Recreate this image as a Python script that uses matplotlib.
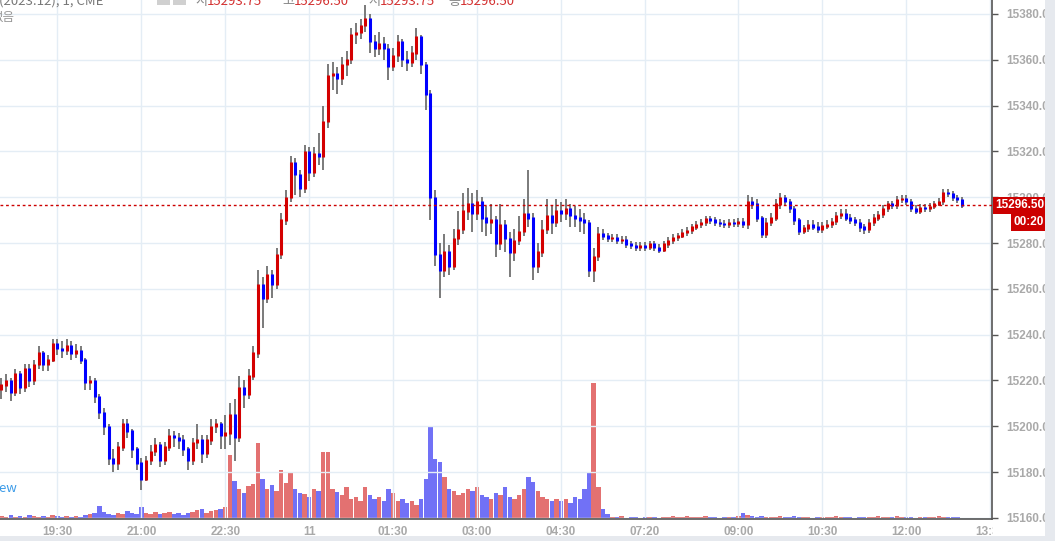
import matplotlib
matplotlib.use('Agg')
import matplotlib.pyplot as plt
import matplotlib.transforms as mtransforms
from matplotlib.patches import Rectangle

plt.rcParams['font.family'] = ['Noto Sans CJK KR', 'DejaVu Sans']

# 5-minute candles, NQ (2023.12), CME
opens = [15216, 15218, 15220, 15215, 15223, 15217, 15225, 15220, 15227, 15232,
         15227, 15229, 15236, 15234, 15233, 15235, 15232, 15233, 15229, 15219,
         15220, 15213, 15206, 15200, 15186, 15184, 15191, 15201, 15198, 15190,
         15184, 15177, 15185, 15189, 15192, 15185, 15191, 15196, 15195, 15194,
         15190, 15185, 15193, 15194, 15188, 15194, 15200, 15201, 15196, 15197,
         15205, 15195, 15217, 15214, 15222, 15232, 15262, 15256, 15266, 15262,
         15275, 15290, 15300, 15315, 15310, 15304, 15320, 15311, 15319, 15318,
         15333, 15353, 15354, 15352, 15358, 15360, 15371, 15372, 15375, 15378,
         15368, 15365, 15367, 15365, 15357, 15362, 15368, 15360, 15359, 15363,
         15370, 15358, 15345, 15300, 15275, 15268, 15276, 15270, 15282, 15286,
         15294, 15297, 15293, 15298, 15291, 15289, 15290, 15280, 15288, 15282,
         15276, 15281, 15285, 15293, 15291, 15270, 15276, 15286, 15292, 15289,
         15294, 15293, 15295, 15292, 15291, 15290, 15289, 15268, 15274, 15284,
         15283, 15282, 15282.5, 15281, 15281.5, 15279.5, 15279, 15278, 15279, 15278,
         15279.5, 15278, 15277, 15279.5, 15281, 15282.5, 15283, 15284.5, 15285.5, 15287,
         15288, 15289, 15290.5, 15290, 15289, 15288.5, 15288, 15289, 15288.5, 15289.5,
         15288, 15298, 15297, 15291, 15284, 15289, 15291, 15297, 15300, 15298,
         15295, 15290, 15285, 15286.5, 15288, 15287, 15286, 15287.5, 15288, 15289.5,
         15292, 15293, 15291, 15290, 15289, 15287, 15286, 15289, 15291, 15292.5,
         15295, 15297, 15296.5, 15299, 15299.5, 15298, 15295, 15294, 15295.5, 15295,
         15296, 15297, 15298, 15302, 15301.5, 15300, 15299]

highs = [15221, 15223, 15221, 15225, 15224, 15227, 15227, 15229, 15235, 15233,
         15231, 15238, 15238, 15237, 15238, 15237, 15236, 15235, 15230, 15222,
         15221, 15214, 15208, 15201, 15190, 15193, 15203, 15203, 15199, 15191,
         15186, 15187, 15192, 15195, 15193, 15193, 15199, 15198, 15197, 15196,
         15191, 15195, 15201, 15196, 15196, 15203, 15203, 15202, 15205, 15210,
         15212, 15222, 15220, 15225, 15235, 15268, 15265, 15270, 15268, 15278,
         15293, 15303, 15318, 15317, 15312, 15323, 15322, 15322, 15328, 15340,
         15358, 15359, 15357, 15361, 15364, 15374, 15376, 15378, 15384, 15380,
         15371, 15372, 15370, 15367, 15365, 15371, 15369, 15364, 15366, 15374,
         15371, 15359, 15347, 15303, 15280, 15284, 15279, 15286, 15294, 15302,
         15304, 15302, 15303, 15300, 15296, 15297, 15292, 15297, 15290, 15285,
         15286, 15292, 15299, 15312, 15293, 15280, 15290, 15299, 15296, 15299,
         15298, 15299, 15297, 15296, 15295, 15293, 15290, 15278, 15287, 15286,
         15284.5, 15284, 15284, 15283, 15283, 15281, 15280.5, 15280.5, 15280.5, 15281,
         15281, 15279.5, 15281, 15282.5, 15284, 15284.5, 15286, 15287, 15288.5, 15289.5,
         15290.5, 15292, 15292, 15291.5, 15290.5, 15290, 15290.5, 15290.5, 15291, 15291,
         15301, 15300, 15299, 15292, 15291, 15293, 15299, 15302, 15301, 15299,
         15296, 15291, 15288, 15290, 15290, 15289, 15289, 15290, 15291, 15293.5,
         15295, 15295, 15292.5, 15291.5, 15290.5, 15288.5, 15290.5, 15292.5, 15294, 15296.5,
         15298.5, 15298.5, 15300.5, 15301, 15301, 15299, 15296.5, 15297, 15297, 15297.5,
         15298.5, 15299.5, 15303.5, 15303.5, 15302.5, 15301, 15300]

lows = [15212, 15215, 15211, 15213, 15214, 15215, 15217, 15218, 15225, 15224,
        15224, 15228, 15231, 15230, 15231, 15229, 15230, 15227, 15216, 15216,
        15210, 15203, 15196, 15183, 15180, 15181, 15189, 15195, 15186, 15181,
        15172, 15176, 15183, 15187, 15182, 15183, 15189, 15191, 15190, 15187,
        15181, 15183, 15190, 15184, 15186, 15192, 15197, 15190, 15190, 15192,
        15185, 15193, 15208, 15212, 15220, 15230, 15243, 15254, 15256, 15260,
        15273, 15288, 15298, 15301, 15300, 15302, 15307, 15309, 15314, 15312,
        15330, 15347, 15345, 15349, 15353, 15358, 15367, 15369, 15372, 15363,
        15361, 15362, 15360, 15351, 15355, 15359, 15357, 15355, 15357, 15360,
        15354, 15338, 15290, 15270, 15256, 15265, 15266, 15268, 15279, 15284,
        15290, 15285, 15290, 15285, 15283, 15284, 15274, 15277, 15276, 15265,
        15272, 15279, 15283, 15287, 15264, 15267, 15274, 15284, 15284, 15287,
        15289, 15290, 15287, 15287, 15285, 15284, 15265, 15263, 15272, 15281.5,
        15280.5, 15280.5, 15279.5, 15279.5, 15278, 15277.5, 15276.5, 15276.5, 15276.5, 15277,
        15276.5, 15275.5, 15276, 15278, 15279.5, 15281, 15282, 15283, 15284, 15285.5,
        15286.5, 15287.5, 15288.5, 15287.5, 15287, 15286.5, 15286.5, 15287, 15287, 15286.5,
        15286, 15295, 15289, 15282, 15282, 15287.5, 15289.5, 15295, 15296, 15293,
        15288, 15283.5, 15284, 15285, 15285.5, 15284.5, 15284.5, 15286, 15286.5, 15288,
        15290.5, 15289.5, 15288.5, 15287.5, 15285, 15284, 15284.5, 15287.5, 15289.5, 15291,
        15293.5, 15295, 15295, 15297.5, 15296.5, 15293.5, 15292.5, 15292.5, 15293.5, 15293.5,
        15295, 15296, 15296.5, 15300, 15298.5, 15297.5, 15295.5]

closes = [15218, 15220, 15215, 15223, 15217, 15225, 15220, 15227, 15232, 15227,
          15229, 15236, 15234, 15233, 15235, 15232, 15233, 15229, 15219, 15220,
          15213, 15206, 15200, 15186, 15184, 15191, 15201, 15198, 15190, 15184,
          15177, 15185, 15189, 15192, 15185, 15191, 15196, 15195, 15194, 15190,
          15185, 15193, 15194, 15188, 15194, 15200, 15201, 15196, 15197, 15205,
          15195, 15217, 15214, 15222, 15232, 15262, 15256, 15266, 15262, 15275,
          15290, 15300, 15315, 15310, 15304, 15320, 15311, 15319, 15318, 15333,
          15353, 15354, 15352, 15358, 15360, 15371, 15372, 15375, 15378, 15368,
          15365, 15367, 15365, 15357, 15362, 15368, 15360, 15359, 15363, 15370,
          15358, 15345, 15300, 15275, 15268, 15276, 15270, 15282, 15286, 15294,
          15297, 15293, 15298, 15291, 15289, 15290, 15280, 15288, 15282, 15276,
          15281, 15285, 15293, 15291, 15270, 15276, 15286, 15292, 15289, 15294,
          15293, 15295, 15292, 15291, 15290, 15289, 15268, 15274, 15284, 15283,
          15282, 15282.5, 15281, 15281.5, 15279.5, 15279, 15278, 15279, 15278, 15279.5,
          15278, 15277, 15279.5, 15281, 15282.5, 15283, 15284.5, 15285.5, 15287, 15288,
          15289, 15290.5, 15290, 15289, 15288.5, 15288, 15289, 15288.5, 15289.5, 15288,
          15298, 15297, 15291, 15284, 15289, 15291, 15297, 15300, 15298, 15295,
          15290, 15285, 15286.5, 15288, 15287, 15286, 15287.5, 15288, 15289.5, 15292,
          15293, 15291, 15290, 15289, 15287, 15286, 15289, 15291, 15292.5, 15295,
          15297, 15296.5, 15299, 15299.5, 15298, 15295, 15294, 15295.5, 15295, 15296,
          15297, 15298, 15302, 15301.5, 15300, 15299, 15296.5]

volumes = [75, 50, 100, 50, 75, 50, 100, 75, 50, 75,
           50, 100, 75, 50, 75, 50, 75, 50, 100, 125,
           150, 325, 175, 125, 100, 150, 125, 200, 150, 125,
           300, 150, 125, 175, 125, 150, 175, 125, 150, 100,
           150, 175, 225, 250, 150, 200, 225, 250, 300, 1600,
           950, 750, 650, 825, 875, 1900, 1000, 750, 850, 700,
           1225, 900, 1175, 750, 650, 625, 550, 750, 700, 1675,
           1675, 750, 675, 600, 800, 500, 550, 450, 800, 600,
           500, 550, 450, 750, 650, 450, 500, 400, 450, 350,
           500, 1000, 2300, 1500, 1425, 1050, 750, 700, 600, 650,
           750, 700, 800, 600, 550, 500, 650, 600, 800, 550,
           500, 600, 750, 1050, 925, 700, 550, 500, 450, 500,
           450, 500, 400, 550, 500, 750, 1175, 3400, 800, 250,
           125, 50, 50, 75, 25, 50, 50, 25, 50, 50,
           50, 25, 50, 50, 75, 50, 50, 75, 50, 50,
           50, 75, 50, 50, 25, 50, 50, 50, 75, 150,
           100, 75, 50, 75, 50, 50, 50, 75, 50, 50,
           75, 50, 50, 50, 25, 50, 50, 50, 50, 75,
           50, 50, 50, 25, 50, 50, 50, 50, 75, 50,
           50, 50, 75, 50, 50, 50, 25, 50, 50, 50,
           50, 75, 50, 50, 50, 50, 25]

time_ticks = [12, 30, 48, 66, 84, 102, 120, 138, 158, 176, 194, 212]
time_labels = ['19:30', '21:00', '22:30', '11', '01:30', '03:00', '04:30',
               '07:20', '09:00', '10:30', '12:00', '13:30']
price_ticks = list(range(15160, 15381, 20))
last_price = 15296.50

W, H = 1055, 541
fig = plt.figure(figsize=(W / 100, H / 100), dpi=100)
fig.patch.set_facecolor('white')
rect = [0, 22 / H, 992 / W, 519 / H]

# volume pane underneath
axv = fig.add_axes(rect, zorder=0)
axv.set_xlim(-0.3, 212.4)
axv.set_ylim(0, 12975)
axv.axis('off')

ax = fig.add_axes(rect, zorder=1)
ax.patch.set_visible(False)
ax.set_xlim(-0.3, 212.4)
ax.set_ylim(15159.5, 15386.1)

idx = list(range(len(closes)))
up = [c >= o for o, c in zip(opens, closes)]
up_col, dn_col = '#d40000', '#0000ff'

axv.bar(idx, volumes, width=0.95,
        color=['#e06262' if u else '#6262f5' for u in up], alpha=0.9, linewidth=0)

ax.vlines(idx, lows, highs, color='#707070', linewidth=1.3, zorder=2)
body_lo = [min(o, c) - 0.3 for o, c in zip(opens, closes)]
body_hi = [max(o, c) + 0.3 for o, c in zip(opens, closes)]
ax.vlines(idx, body_lo, body_hi, color=[up_col if u else dn_col for u in up],
          linewidth=2.2, zorder=3)

ax.axhline(last_price, color='#cc0000', linestyle=(0, (2, 2)), linewidth=1, zorder=4)

# grid + axes styling
ax.set_xticks(time_ticks)
ax.set_xticklabels(time_labels)
ax.set_yticks(price_ticks)
ax.set_yticklabels(['%.2f' % p for p in price_ticks])
ax.yaxis.tick_right()
ax.grid(True, color='#e4edf5', linewidth=1)
ax.set_axisbelow(True)
for s in ['top', 'left']:
    ax.spines[s].set_visible(False)
for s in ['right', 'bottom']:
    ax.spines[s].set_color('#555555')
    ax.spines[s].set_linewidth(1.2)
ax.tick_params(axis='y', length=4, width=1, color='#555555', pad=6,
               labelsize=8.5, labelcolor='#a9a9a9')
ax.tick_params(axis='x', length=0, pad=5, labelsize=8.5, labelcolor='#a9a9a9')
for t in ax.get_yticklabels() + ax.get_xticklabels():
    t.set_fontweight('bold')
    t.set_family(['Liberation Sans', 'DejaVu Sans'])

# last price tags
blend = mtransforms.blended_transform_factory(ax.transAxes, ax.transData)
ax.annotate('%.2f' % last_price, xy=(1, last_price), xycoords=blend,
            textcoords='offset pixels', xytext=(52, 0), ha='right', va='center',
            color='white', fontsize=8.5, fontweight='bold', family=['Liberation Sans'],
            bbox=dict(boxstyle='square,pad=0.2', fc='#cc0000', ec='none'),
            annotation_clip=False, zorder=10)
ax.annotate('00:20', xy=(1, last_price), xycoords=blend,
            textcoords='offset pixels', xytext=(52, -17), ha='right', va='center',
            color='white', fontsize=8.5, fontweight='bold', family=['Liberation Sans'],
            bbox=dict(boxstyle='square,pad=0.2', fc='#cc0000', ec='none'),
            annotation_clip=False, zorder=10)

# frame decorations
fig.add_artist(Rectangle((993 / W, 0), 52 / W, 19 / H, transform=fig.transFigure,
                         facecolor='white', edgecolor='none', zorder=5))
fig.add_artist(Rectangle((1045 / W, 0), 10 / W, 1, transform=fig.transFigure,
                         facecolor='#e6e9ee', edgecolor='none', zorder=6))
fig.add_artist(Rectangle((0, 0), 1, 5 / H, transform=fig.transFigure,
                         facecolor='#e6e9ee', edgecolor='none', zorder=6))

# header (cut off at the top)
hy = 1 - 5 / H
fig.text(-1 / W, hy, '(2023.12), 1, CME', color='#777777', fontsize=9.5, va='baseline')
for x0 in (157, 173):
    fig.add_artist(Rectangle((x0 / W, 1 - 5 / H), 13 / W, 12 / H, transform=fig.transFigure,
                             facecolor='#d0d0d0', edgecolor='none'))
for x0, k, v in [(195, '시', '15293.75'), (282, '고', '15296.50'),
                 (368, '저', '15293.75'), (448, '종', '15296.50')]:
    fig.text(x0 / W, hy, k, color='#888888', fontsize=9.5, va='baseline')
    fig.text((x0 + 12) / W, hy, v, color='#d32f2f', fontsize=9.5, va='baseline')
fig.text(-9 / W, 1 - 21 / H, '없음', color='#999999', fontsize=9, va='baseline')
fig.text(17 / W, 1 - 492 / H, 'TradingView', color='#3b9be8', fontsize=9.5,
         ha='right', va='baseline')

fig.savefig('out.png', dpi=100)
